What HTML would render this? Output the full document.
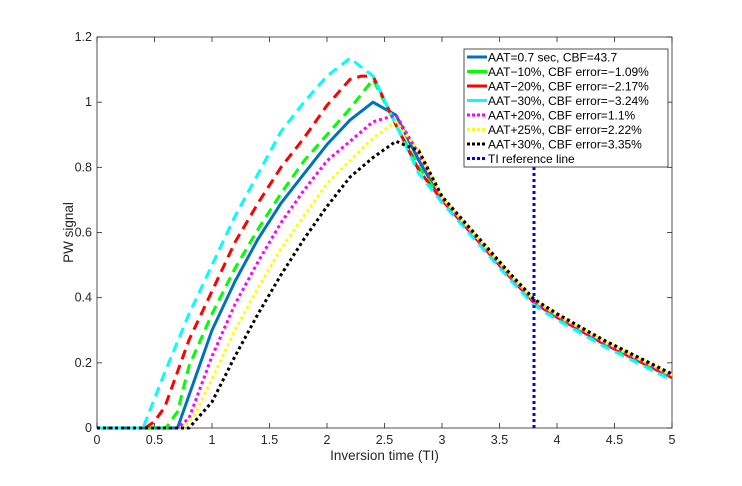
<!DOCTYPE html>
<html><head><meta charset="utf-8"><style>
body{margin:0;background:#fff;}
svg text{font-family:"Liberation Sans",sans-serif;}
</style></head><body>
<svg id="chart" width="742" height="481" xmlns="http://www.w3.org/2000/svg">
<rect width="742" height="481" fill="#fff"/>
<g id="plot"></g>
</svg>
<script>
const xTicks=[0,0.5,1,1.5,2,2.5,3,3.5,4,4.5,5];
const xTickLabels=["0","0.5","1","1.5","2","2.5","3","3.5","4","4.5","5"];
const yTicks=[0,0.2,0.4,0.6,0.8,1,1.2];
const yTickLabels=["0","0.2","0.4","0.6","0.8","1","1.2"];
const decayX=[3.0,3.2,3.4,3.6,3.8,4.0,4.2,4.4,4.6,4.8,5.0];
const decayY=[0.70,0.62,0.54,0.46,0.385,0.34,0.30,0.26,0.225,0.19,0.155];
const blueX=[0,0.7,0.8,1.0,1.2,1.4,1.6,1.8,2.0,2.2,2.4,2.6,2.8];
const blueY=[0,0,0.10,0.30,0.45,0.58,0.69,0.78,0.87,0.945,1.0,0.96,0.82];
const greenX=[0,0.6,0.7,0.8,1.0,1.2,1.4,1.6,1.8,2.0,2.2,2.4,2.6,2.8];
const greenY=[0,0,0.05,0.19,0.35,0.49,0.61,0.72,0.82,0.90,0.98,1.07,0.93,0.80];
const redX=[0,0.42,0.5,0.59,0.8,1.0,1.2,1.4,1.6,1.8,2.0,2.2,2.3,2.4,2.6,2.8];
const redY=[0,0,0.02,0.065,0.27,0.42,0.57,0.69,0.80,0.89,0.99,1.07,1.08,1.08,0.93,0.79];
const cyanX=[0,0.4,0.6,0.8,1.0,1.2,1.4,1.6,1.8,2.0,2.2,2.4,2.6,2.8];
const cyanY=[0,0,0.18,0.35,0.50,0.65,0.78,0.91,1.0,1.08,1.135,1.08,0.93,0.78];
const magentaX=[0,0.7,0.8,1.0,1.2,1.4,1.6,1.8,2.0,2.2,2.4,2.6,2.8];
const magentaY=[0,0,0.03,0.22,0.38,0.51,0.63,0.73,0.82,0.88,0.94,0.96,0.84];
const yellowX=[0,0.75,0.85,1.0,1.2,1.4,1.6,1.8,2.0,2.2,2.4,2.6,2.8];
const yellowY=[0,0,0.04,0.15,0.30,0.43,0.55,0.65,0.75,0.82,0.89,0.94,0.85];
const blackX=[0,0.8,1.0,1.2,1.4,1.6,1.8,2.0,2.2,2.4,2.6,2.8];
const blackY=[0,0,0.08,0.22,0.35,0.47,0.58,0.68,0.77,0.83,0.88,0.85];
const refX=[3.8,3.8];
const refY=[0,0.8];

const X0=97,X1=672,Y0=428,Y1=37;
const sx=v=>X0+(v-0)/(5-0)*(X1-X0);
const sy=v=>Y0-(v-0)/(1.2-0)*(Y0-Y1);
const NS="http://www.w3.org/2000/svg";
const g=document.getElementById('plot');
function el(t,a){const e=document.createElementNS(NS,t);for(const k in a)e.setAttribute(k,a[k]);g.appendChild(e);return e;}

let ax=el('rect',{x:X0,y:Y1,width:X1-X0,height:Y0-Y1,fill:'#fff',stroke:'#262626','stroke-width':0.8});


xTicks.forEach((t,i)=>{
 el('line',{x1:sx(t),x2:sx(t),y1:Y0,y2:Y0-5,stroke:'#262626','stroke-width':0.8});
 el('line',{x1:sx(t),x2:sx(t),y1:Y1,y2:Y1+5,stroke:'#262626','stroke-width':0.8});
 const tx=el('text',{x:sx(t),y:Y0+16,'text-anchor':'middle','font-size':12.5,fill:'#262626'});
 tx.textContent=xTickLabels[i];
 
 
});
yTicks.forEach((t,i)=>{
 el('line',{x1:X0,x2:X0+5,y1:sy(t),y2:sy(t),stroke:'#262626','stroke-width':0.8});
 el('line',{x1:X1,x2:X1-5,y1:sy(t),y2:sy(t),stroke:'#262626','stroke-width':0.8});
 const tx=el('text',{x:X0-5,y:sy(t)+4,'text-anchor':'end','font-size':12.5,fill:'#262626'});
 tx.textContent=yTickLabels[i];
 
 
});
const xt=el('text',{x:(X0+X1)/2,y:Y0+32,'text-anchor':'middle','font-size':13.5,fill:'#262626'});
xt.textContent='Inversion time (TI)';


const yt=el('text',{x:0,y:0,'text-anchor':'middle','font-size':13.5,fill:'#262626',transform:`translate(73,${(Y0+Y1)/2}) rotate(-90)`});
yt.textContent='PW signal';



const series=[
 {n:'aat-ref',x:blueX,y:blueY,c:'#0072BD',d:'',w:3,off:0},
 {n:'aat-minus-10',x:greenX,y:greenY,c:'#00ff00',d:'10 6',w:3,off:0},
 {n:'aat-minus-20',x:redX,y:redY,c:'#ff0000',d:'10 6',w:3,off:0},
 {n:'aat-minus-30',x:cyanX,y:cyanY,c:'#00ffff',d:'10 6',w:3,off:-0.008},
 {n:'aat-plus-20',x:magentaX,y:magentaY,c:'#ff00ff',d:'3 3',w:3,off:0.004},
 {n:'aat-plus-25',x:yellowX,y:yellowY,c:'#ffff00',d:'3 3',w:3,off:0.007},
 {n:'aat-plus-30',x:blackX,y:blackY,c:'#000000',d:'3 3',w:3,off:0.011},
];
series.forEach(s=>{
 const xs=s.x.concat(decayX), ys=s.y.concat(decayY.map(v=>v+s.off));
 const p=el('polyline',{points:xs.map((v,i)=>sx(v)+','+sy(ys[i])).join(' '),fill:'none',stroke:s.c,'stroke-width':s.w,'stroke-dasharray':s.d,'stroke-linejoin':'round'});
 
 
});
const rl=el('line',{x1:sx(refX[0]),x2:sx(refX[1]),y1:sy(refY[0]),y2:sy(refY[1]),stroke:'#0000ff','stroke-width':3,'stroke-dasharray':'3 3'});



const lg=el('rect',{x:464,y:49,width:204,height:118,fill:'#fff',stroke:'#262626','stroke-width':0.8});


const labels=['AAT=0.7 sec, CBF=43.7','AAT\u221210%, CBF error=\u22121.09%','AAT\u221220%, CBF error=\u22122.17%','AAT\u221230%, CBF error=\u22123.24%','AAT+20%, CBF error=1.1%','AAT+25%, CBF error=2.22%','AAT+30%, CBF error=3.35%','TI reference line'];
const lc=[['#0072BD',''],['#00ff00',''],['#ff0000',''],['#00ffff',''],['#ff00ff','3 2'],['#ffff00','3 2'],['#000000','3 2'],['#0000ff','3 2']];
labels.forEach((t,i)=>{
 const y=57+i*14.5;
 const l=el('line',{x1:467,x2:487,y1:y,y2:y,stroke:lc[i][0],'stroke-width':3,'stroke-dasharray':lc[i][1]});
 
 
 const tx=el('text',{x:488,y:y+4.5,'font-size':12,fill:'#000'});
 tx.textContent=t;
 
 
});
</script>
</body></html>
